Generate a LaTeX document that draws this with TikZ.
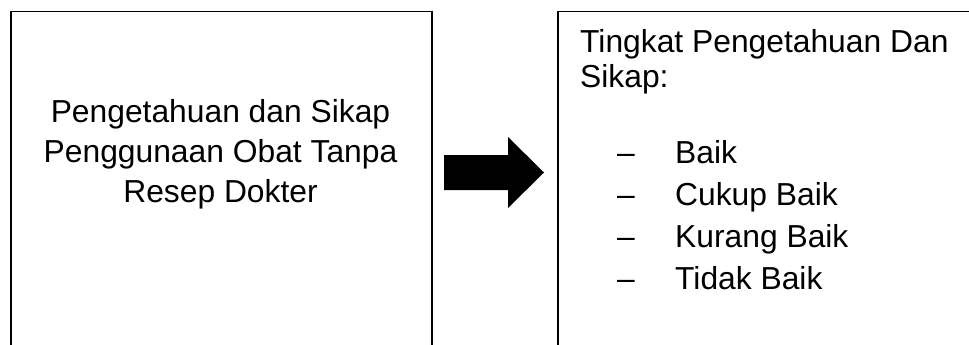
\documentclass[tikz,border=0pt]{standalone}
\usepackage{fontspec}
\setmainfont{Liberation Sans}
\usetikzlibrary{positioning}
\tikzset{
    boxframe/.style={draw=black, line width=1.5pt, inner sep=0pt, anchor=north west},
    boxtext/.style={font=\fontsize{31.8}{40}\selectfont, inner sep=0pt, anchor=base west},
}
\begin{document}
\begin{tikzpicture}[x=1pt,y=-1pt]
	\useasboundingbox (0,0) rectangle (969,345);
	\clip (0,0) rectangle (969,345);
	% boxes, both running past the lower edge
	\node[boxframe, minimum width=421pt, minimum height=400pt] (cause) at (10,11) {};
	\node[boxframe, minimum width=450pt, minimum height=400pt] (effect) at (557,11) {};
	% left text
	\node[boxtext, anchor=base] (cause1) at (220.5,122) {Pengetahuan dan Sikap};
	\node[boxtext, anchor=base] (cause2) at (220.5,162) {Penggunaan Obat Tanpa};
	\node[boxtext, anchor=base] (cause3) at (220.5,202) {Resep Dokter};
	% block arrow between the boxes
	\fill[black] (444,155) -- (508,155) -- (508,137) -- (544,172.5)
		-- (508,208) -- (508,190) -- (444,190) -- cycle;
	% right text
	\node[boxtext] (head1) at (580,53) {Tingkat Pengetahuan Dan};
	\node[boxtext] (head2) at (580,87) {Sikap:};
	\foreach \level [count=\i] in {Baik, Cukup Baik, Kurang Baik, Tidak Baik}{
		\node[boxtext] (dash\i) at (617,{120.7+42.3*\i}) {–};
		\node[boxtext] (level\i) at (675,{120.7+42.3*\i}) {\level};
	}
\end{tikzpicture}
\end{document}
